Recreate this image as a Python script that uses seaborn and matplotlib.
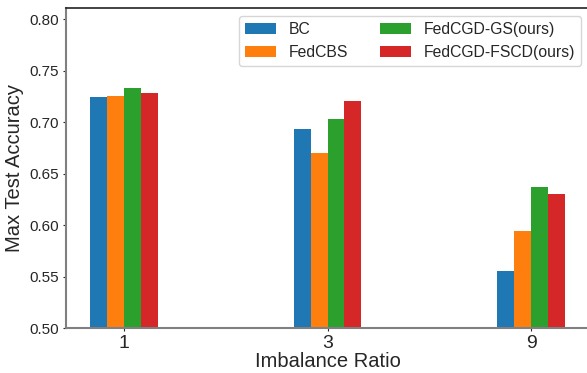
import matplotlib
matplotlib.use("Agg")
import matplotlib.pyplot as plt
import pandas as pd
import seaborn as sns

ratios  = ["1", "3", "9"]
methods = ["BC", "FedCBS", "FedCGD-GS(ours)", "FedCGD-FSCD(ours)"]
bc      = [0.7243, 0.6932, 0.5553]
fedcbs  = [0.7252, 0.6699, 0.5942]
gs      = [0.7330, 0.7029, 0.6369]
fscd    = [0.7282, 0.7204, 0.6301]

colors = ['#1f77b4', '#ff7f0e', '#2ca02c', '#d62728']

rows = []
for m, vals in zip(methods, [bc, fedcbs, gs, fscd]):
    for r, v in zip(ratios, vals):
        rows.append({"ratio": r, "method": m, "acc": v})
df = pd.DataFrame(rows)

sns.set_style("ticks")
plt.rcParams['font.family'] = ['Liberation Sans', 'DejaVu Sans']

fig = plt.figure(figsize=(5.87, 3.73), dpi=100)
ax = fig.add_axes([66 / 587, 45 / 373, 523 / 587, 320 / 373])

sns.barplot(data=df, x="ratio", y="acc", hue="method", order=ratios,
            hue_order=methods, palette=colors, width=0.334, saturation=1,
            ax=ax, linewidth=0, errorbar=None)

ax.set_ylim(0.5, 0.8107)
ax.set_xlim(-0.285, 2.285)
ax.set_yticks([0.50, 0.55, 0.60, 0.65, 0.70, 0.75, 0.80])
ax.set_yticklabels([f"{t:.2f}" for t in ax.get_yticks()], fontsize=11)
ax.tick_params(axis='x', labelsize=14, length=2.5, pad=2.5)
ax.tick_params(axis='y', length=2.5, pad=2.5)

ax.set_xlabel("Imbalance Ratio", fontsize=14.5, labelpad=0)
ax.set_ylabel("Max Test Accuracy", fontsize=14.5, labelpad=4)

for s in ["left", "bottom"]:
    ax.spines[s].set_color("#808080")
    ax.spines[s].set_linewidth(1.5)
ax.spines["top"].set_visible(True)
ax.spines["top"].set_color("#222222")
ax.spines["top"].set_linewidth(1.2)
ax.spines["right"].set_visible(False)

ax.legend(ncol=2, loc="upper right", fontsize=11.3, frameon=True,
          columnspacing=2.0, handlelength=2.0)

plt.savefig("out.png", dpi=100)
plt.close()
